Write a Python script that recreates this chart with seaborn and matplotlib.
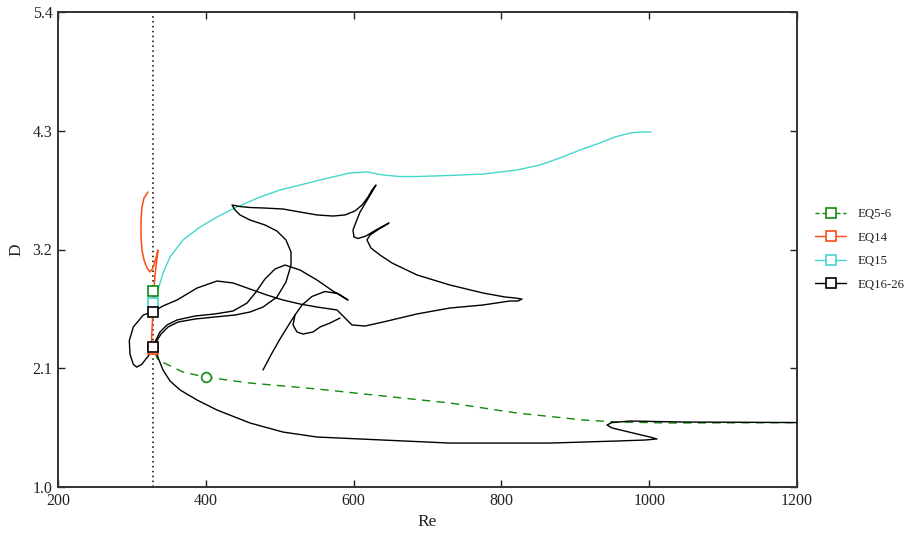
import numpy as np
import pandas as pd
import matplotlib
matplotlib.use("Agg")
import matplotlib.pyplot as plt
from matplotlib.lines import Line2D
import seaborn as sns

# ---------------- data ----------------
re_crit = 329.0

# EQ5-6 (dashed green)
eq56_re = [331.0, 335.3, 369.1, 398.9, 459.8, 550.5, 639.8, 730.4, 821.1, 910.4, 956.4, 1028.2, 1200.0]
eq56_d = [2.25, 2.176, 2.065, 2.019, 1.963, 1.908, 1.843, 1.778, 1.685, 1.621, 1.602, 1.593, 1.596]
eq56_sq = (328.6, 2.815)
eq56_circle = (400.0, 2.02)

# EQ14 (orange)
eq14_re = [321.8, 316.4, 313.7, 312.3, 312.3, 313.7, 316.4, 320.4, 324.5, 328.6, 332.6, 335.3,
           334.0, 331.3, 329.9, 328.6, 327.2, 325.8]
eq14_d = [3.733, 3.677, 3.594, 3.473, 3.316, 3.195, 3.103, 3.029, 2.992, 3.029, 3.121, 3.195,
          3.121, 2.964, 2.825, 2.640, 2.454, 2.269]
eq14_sq = (328.6, 2.28)

# EQ15 (cyan)
eq15_re = [331.3, 335.3, 342.1, 351.6, 369.1, 392.2, 415.2, 442.2, 473.3, 500.4, 527.5, 554.5,
           595.1, 618.1, 639.8, 662.8, 685.8, 730.4, 775.1, 821.1, 852.2, 879.3, 906.4, 933.4,
           953.7, 974.0, 987.5, 1002.4]
eq15_d = [2.732, 2.825, 2.982, 3.131, 3.288, 3.408, 3.501, 3.594, 3.686, 3.751, 3.797, 3.844,
          3.909, 3.918, 3.890, 3.876, 3.876, 3.886, 3.899, 3.936, 3.983, 4.048, 4.122, 4.187,
          4.242, 4.279, 4.288, 4.288]
eq15_sq = (328.6, 2.704)

# EQ16-26 (black), several branches
b1_re = [328.6, 315.4, 301.9, 296.5, 297.4, 301.9, 306.5, 313.3, 322.2, 329.0, 332.6, 336.7,
         342.1, 351.6, 365.1, 388.1, 415.2, 459.8, 504.5, 550.5, 639.8, 730.4, 865.8, 956.4,
         994.3, 1010.5, 1001.1, 978.1, 949.7, 942.9, 949.7, 974.0, 1045.7, 1200.0]
b1_d = [2.624, 2.593, 2.482, 2.356, 2.230, 2.136, 2.111, 2.136, 2.214, 2.293, 2.251, 2.176,
        2.084, 1.982, 1.899, 1.806, 1.713, 1.593, 1.509, 1.463, 1.435, 1.407, 1.407, 1.426,
        1.435, 1.445, 1.463, 1.500, 1.547, 1.574, 1.597, 1.611, 1.602, 1.597]

b2_re = [328.6, 332.6, 338.0, 347.5, 361.0, 385.4, 412.4, 436.8, 455.8, 467.9, 480.1, 493.6,
         507.2, 527.5, 550.5, 572.1, 592.4, 578.9, 561.3, 543.7, 530.2, 520.7, 511.2, 500.4,
         489.6, 477.4]
b2_d = [2.297, 2.362, 2.436, 2.501, 2.547, 2.584, 2.603, 2.630, 2.704, 2.806, 2.927, 3.019,
        3.056, 3.010, 2.917, 2.815, 2.732, 2.792, 2.811, 2.765, 2.686, 2.593, 2.491, 2.371,
        2.241, 2.084]

b3_re = [328.6, 332.6, 339.4, 348.9, 362.4, 385.4, 412.4, 439.5, 459.8, 477.4, 496.3, 508.5,
         515.3, 515.3, 508.5, 496.3, 480.1, 459.8, 446.3, 439.5, 435.5, 446.3, 459.8, 480.1,
         504.5, 527.5, 550.5, 572.1, 588.4, 601.9, 611.4, 619.5, 624.9, 630.3, 624.9, 616.8,
         608.7, 603.3, 599.2, 600.5, 606.0, 616.8, 630.3, 647.9, 634.4, 622.2, 618.1, 623.5,
         635.7, 652.0, 685.8, 730.4, 775.1, 804.9, 818.4, 827.9, 822.5, 811.6, 775.1, 730.4,
         685.8, 639.8, 615.4, 597.8, 587.0, 577.5, 550.5, 527.5, 504.5, 482.8, 459.8, 436.8,
         415.2, 388.1, 361.0, 342.1, 328.6]
b3_d = [2.297, 2.343, 2.417, 2.482, 2.528, 2.556, 2.575, 2.593, 2.621, 2.667, 2.760, 2.899,
        3.056, 3.177, 3.288, 3.371, 3.427, 3.473, 3.520, 3.566, 3.612, 3.598, 3.589, 3.584,
        3.575, 3.547, 3.520, 3.510, 3.520, 3.557, 3.612, 3.686, 3.751, 3.797, 3.733, 3.640,
        3.547, 3.455, 3.381, 3.316, 3.302, 3.325, 3.381, 3.445, 3.390, 3.334, 3.288, 3.214,
        3.149, 3.075, 2.964, 2.871, 2.797, 2.760, 2.751, 2.741, 2.723, 2.723, 2.686, 2.658,
        2.603, 2.528, 2.491, 2.501, 2.575, 2.640, 2.667, 2.695, 2.732, 2.778, 2.834, 2.890,
        2.908, 2.843, 2.732, 2.677, 2.624]

b4_re = [581.6, 568.1, 554.5, 545.1, 531.5, 523.4, 518.0, 520.7]
b4_d = [2.565, 2.519, 2.482, 2.436, 2.417, 2.436, 2.501, 2.593]

eq1626_sq_re = [328.6, 328.6]
eq1626_sq_d = [2.624, 2.30]

x_ticks = [200, 400, 600, 800, 1000, 1200]
y_ticks = [1.0, 2.1, 3.2, 4.3, 5.4]
x_tick_labels = ["200", "400", "600", "800", "1000", "1200"]
y_tick_labels = ["1.0", "2.1", "3.2", "4.3", "5.4"]
series_labels = ["EQ5-6", "EQ14", "EQ15", "EQ16-26"]

# ---------------- style ----------------
sns.set_style("ticks")
plt.rcParams["font.family"] = ["Liberation Serif", "DejaVu Serif"]

C_GREEN = "#0f8a0f"
C_ORANGE = "#ff4a12"
C_CYAN = "#45d6cc"
C_BLACK = "#000000"

fig = plt.figure(figsize=(9.21, 5.34), dpi=100)
ax = fig.add_axes([58 / 921, 1 - 487 / 534, (797 - 58) / 921, (487 - 12) / 534])

lw = 1.0

# dotted critical line
ax.axvline(re_crit, color="black", lw=1.1, ls=(0, (1, 2.2)), zorder=1)

df56 = pd.DataFrame({"Re": eq56_re, "D": eq56_d})
sns.lineplot(data=df56, x="Re", y="D", sort=False, estimator=None, color=C_GREEN,
             lw=lw, ax=ax, zorder=2, linestyle=(0, (6, 4.5)))

df15 = pd.DataFrame({"Re": eq15_re, "D": eq15_d})
sns.lineplot(data=df15, x="Re", y="D", sort=False, estimator=None, color=C_CYAN,
             lw=lw, ax=ax, zorder=2)

df14 = pd.DataFrame({"Re": eq14_re, "D": eq14_d})
sns.lineplot(data=df14, x="Re", y="D", sort=False, estimator=None, color=C_ORANGE,
             lw=lw * 1.1, ax=ax, zorder=3)

black_frames = []
for i, (xs, ys) in enumerate([(b1_re, b1_d), (b2_re, b2_d), (b3_re, b3_d), (b4_re, b4_d)]):
    black_frames.append(pd.DataFrame({"Re": xs, "D": ys, "seg": i}))
dfb = pd.concat(black_frames, ignore_index=True)
sns.lineplot(data=dfb, x="Re", y="D", units="seg", sort=False, estimator=None,
             color=C_BLACK, lw=lw, ax=ax, zorder=4)

ms = 7.8
mew = 1.2
ax.plot([eq56_circle[0]], [eq56_circle[1]], marker="o", ms=7, mfc="white", mec=C_GREEN,
        mew=mew, ls="none", zorder=5)
ax.plot([eq14_sq[0]], [eq14_sq[1]], marker="s", ms=ms, mfc="white", mec=C_ORANGE,
        mew=mew, ls="none", zorder=5)
ax.plot([eq56_sq[0]], [eq56_sq[1]], marker="s", ms=ms * 0.95, mfc="white", mec=C_GREEN,
        mew=mew, ls="none", zorder=5)
ax.plot([eq15_sq[0]], [eq15_sq[1]], marker="s", ms=ms * 0.95, mfc="white", mec=C_CYAN,
        mew=mew, ls="none", zorder=5)
ax.plot(eq1626_sq_re, eq1626_sq_d, marker="s", ms=ms, mfc="white", mec=C_BLACK,
        mew=mew, ls="none", zorder=6)

ax.set_xlim(200, 1200)
ax.set_ylim(1.0, 5.4)
ax.set_xticks(x_ticks)
ax.set_xticklabels(x_tick_labels)
ax.set_yticks(y_ticks)
ax.set_yticklabels(y_tick_labels)
ax.set_xlabel("Re", fontsize=12.5, labelpad=4)
ax.set_ylabel("D", fontsize=12.5, labelpad=6)
ax.tick_params(direction="in", length=5, width=1.0, top=True, right=True,
               labelsize=11.5, colors="#222222", pad=4)
for sp in ax.spines.values():
    sp.set_visible(True)
    sp.set_linewidth(1.4)
    sp.set_color("#333333")

handles = [
    Line2D([], [], color=C_GREEN, lw=lw, ls=(0, (3, 2)), marker="s", ms=7, mfc="white",
           mec=C_GREEN, mew=mew),
    Line2D([], [], color=C_ORANGE, lw=lw, marker="s", ms=7, mfc="white", mec=C_ORANGE, mew=mew),
    Line2D([], [], color=C_CYAN, lw=lw, marker="s", ms=7, mfc="white", mec=C_CYAN, mew=mew),
    Line2D([], [], color=C_BLACK, lw=lw, marker="s", ms=7, mfc="white", mec=C_BLACK, mew=mew),
]
fig.legend(handles, series_labels, loc="center left", bbox_to_anchor=(805 / 921, 1 - 249.5 / 534),
           frameon=False, fontsize=9.3, handlelength=2.4, handletextpad=0.9,
           labelspacing=0.88, borderpad=0.3)

fig.savefig("out.png", dpi=100)
